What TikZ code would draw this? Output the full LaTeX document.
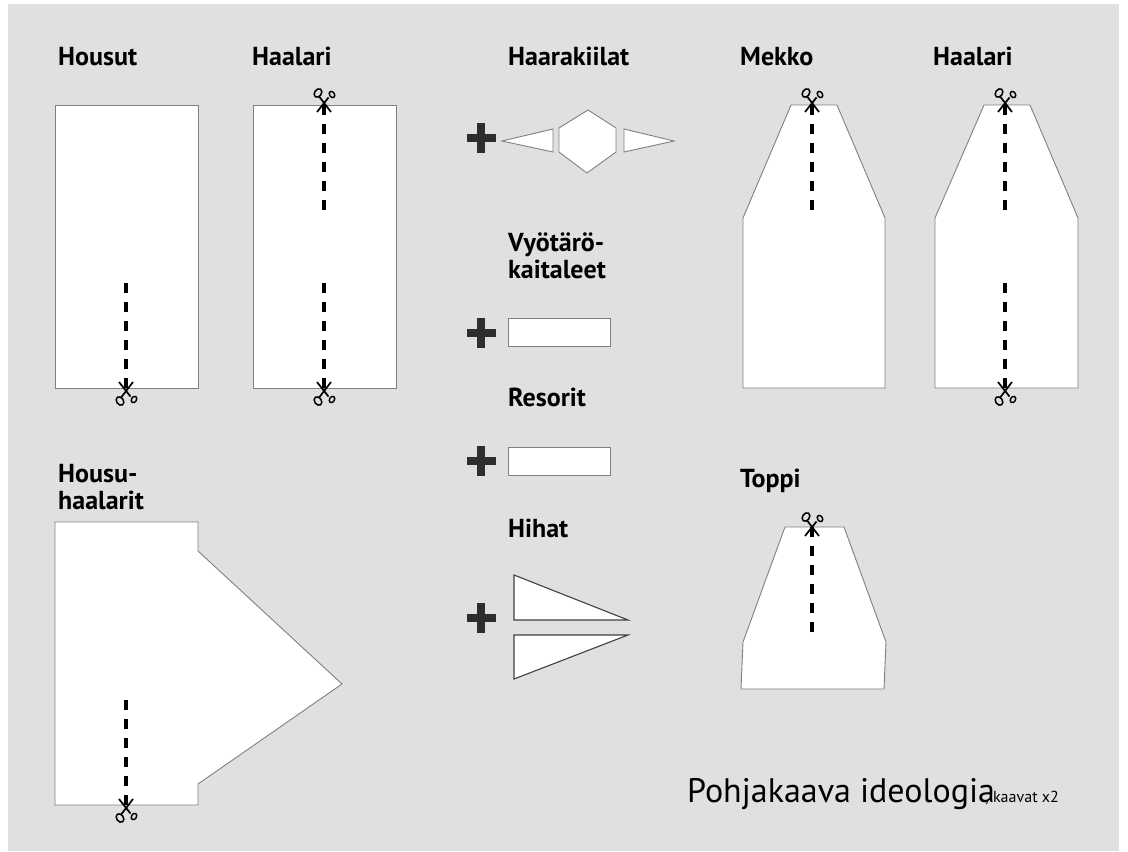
\documentclass[tikz,border=0pt]{standalone}
\usepackage{fontspec}
\setmainfont{PT Sans}
\tikzset{
  x=1pt,y=-1pt,
  pattern piece/.style={draw=black!50,fill=white,line width=0.9pt,line join=miter},
  sleeve piece/.style={draw=black!75,fill=white,line width=1.1pt,line join=miter},
  cut line/.style={black,line width=3.4pt,dash pattern=on 10pt off 9pt},
  title/.style={font=\bfseries\fontsize{26}{28}\selectfont,anchor=base west,align=left,inner sep=0pt,text=black},
  scissors/.pic={
    \draw[black,line width=1.7pt] (-7,-9) -- (4.5,5.5) (7,-9) -- (-4.5,6);
    \draw[black,line width=1.5pt,rotate around={35:(-6,10)}] (-6,10) ellipse (3.4 and 4.6);
    \draw[black,line width=1.5pt,rotate around={-30:(8,8.5)}] (8,8.5) ellipse (2.5 and 3.4);
  },
  plus/.pic={
    \fill[black!82] (-14.5,-3.7) rectangle (14.5,3.7);
    \fill[black!82] (-3.6,-15) rectangle (3.6,15);
  }
}
\begin{document}
\begin{tikzpicture}
\useasboundingbox (0,0) rectangle (1128,852);
\fill[white] (0,0) rectangle (1128,852);
\fill[black!12] (8,4) rectangle (1119,851);
% pieces
\draw[pattern piece] (55,105) rectangle (198,388);
\draw[pattern piece] (253,105) rectangle (396,388);
\draw[pattern piece] (55,522) -- (198,522) -- (198,551) -- (342,684) -- (198,784) -- (198,805) -- (55,805) -- cycle;
\draw[pattern piece] (502,141) -- (553,129) -- (553,152) -- cycle;
\draw[pattern piece] (588,110) -- (616,128) -- (616,152) -- (587,173) -- (559,152) -- (559,128) -- cycle;
\draw[pattern piece] (624,129) -- (674,141) -- (624,152) -- cycle;
\draw[pattern piece] (508,318) rectangle (610,346);
\draw[pattern piece] (508,447) rectangle (610,475);
\draw[sleeve piece] (514,575) -- (628,620) -- (514,620) -- cycle;
\draw[sleeve piece] (514,635) -- (628,635) -- (514,679) -- cycle;
\draw[pattern piece] (791,105) -- (837,105) -- (885,218) -- (885,388) -- (743,388) -- (743,218) -- cycle;
\draw[pattern piece] (984,105) -- (1030,105) -- (1078,218) -- (1078,388) -- (935,388) -- (935,218) -- cycle;
\draw[pattern piece] (785,527) -- (844,527) -- (886,642) -- (884,689) -- (741,689) -- (743,642) -- cycle;
% cuts
\draw[cut line] (126,283) -- (126,388);
\draw[cut line] (324,283) -- (324,388);
\draw[cut line] (324,210) -- (324,105);
\draw[cut line] (126,700) -- (126,805);
\draw[cut line] (812,210) -- (812,105);
\draw[cut line] (1005,210) -- (1005,105);
\draw[cut line] (1005,283) -- (1005,388);
\draw[cut line] (812,632) -- (812,527);
% scissors
\pic at (126,391) {scissors};
\pic at (324,391) {scissors};
\pic at (126,808) {scissors};
\pic at (1005,391) {scissors};
\pic[yscale=-1] at (324,103) {scissors};
\pic[yscale=-1] at (812,103) {scissors};
\pic[yscale=-1] at (1005,103) {scissors};
\pic[yscale=-1] at (812,527) {scissors};
% plus
\pic at (481,138) {plus};
\pic at (481,333) {plus};
\pic at (481,461) {plus};
\pic at (481,618) {plus};
% titles
\node[title] (housut) at (58,65) {Housut};
\node[title] (haalari1) at (252,65) {Haalari};
\node[title] (kiilat) at (508,65) {Haarakiilat};
\node[title] (mekko) at (740,65) {Mekko};
\node[title] (haalari2) at (933,65) {Haalari};
\node[title] (vyo1) at (508,251) {Vyötärö-};
\node[title] (vyo2) at (508,278) {kaitaleet};
\node[title] (resorit) at (508,406) {Resorit};
\node[title] (hihat) at (508,537) {Hihat};
\node[title] (toppi) at (740,487) {Toppi};
\node[title] (hh1) at (58,482) {Housu-};
\node[title] (hh2) at (58,509) {haalarit};
\node[anchor=base west,inner sep=0pt,font=\fontsize{34}{36}\selectfont] (cap1) at (687,802) {Pohjakaava ideologia};
\node[anchor=base west,inner sep=0pt,font=\fontsize{16}{18}\selectfont] (cap2) at (985,802) {, kaavat x2};
\end{tikzpicture}
\end{document}
